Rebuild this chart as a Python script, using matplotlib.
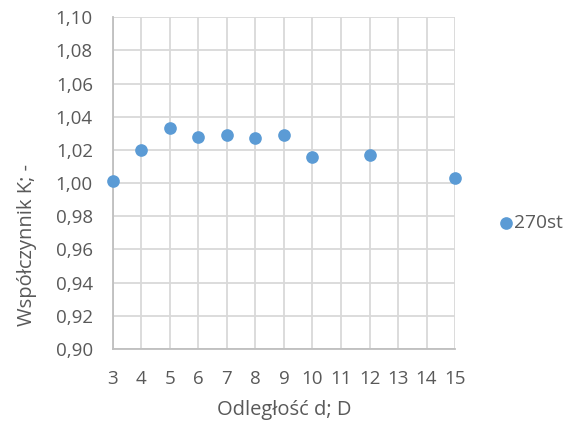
import matplotlib
matplotlib.use("Agg")
import matplotlib.pyplot as plt
from matplotlib.ticker import FixedLocator, FuncFormatter

# Distance d (in D) and coefficient K for the 270st series
distance = [3, 4, 5, 6, 7, 8, 9, 10, 12, 15]
coef_k = [1.001, 1.020, 1.033, 1.028, 1.029, 1.027, 1.029, 1.016, 1.017, 1.003]
x_ticks = list(range(3, 16))
y_ticks = [0.90, 0.92, 0.94, 0.96, 0.98, 1.00, 1.02, 1.04, 1.06, 1.08, 1.10]
series_name = "270st"

text_color = "#595959"
grid_color = "#d9d9d9"
axis_color = "#bfbfbf"
marker_color = "#5B9BD5"

plt.rcParams["font.family"] = ["Open Sans", "DejaVu Sans"]

fig = plt.figure(figsize=(5.80, 4.29), dpi=100)
ax = fig.add_axes([0.1948, 0.1865, 0.5897, 0.7732])

ax.scatter(distance, coef_k, s=83, color=marker_color, zorder=3,
           clip_on=False, label=series_name, linewidths=0)

ax.set_xlim(3, 15)
ax.set_ylim(0.90, 1.10)
ax.xaxis.set_major_locator(FixedLocator(x_ticks))
ax.yaxis.set_major_locator(FixedLocator(y_ticks))
ax.yaxis.set_major_formatter(FuncFormatter(lambda v, p: f"{v:.2f}".replace(".", ",")))
ax.xaxis.set_major_formatter(FuncFormatter(lambda v, p: f"{int(round(v))}"))

ax.grid(True, color=grid_color, linewidth=1.3, zorder=0)
ax.set_axisbelow(True)
for side in ("top", "right"):
    ax.spines[side].set_visible(False)
for side in ("left", "bottom"):
    ax.spines[side].set_color(axis_color)
    ax.spines[side].set_linewidth(1.3)

ax.tick_params(axis="both", length=0, labelsize=13.5, colors=text_color)
ax.tick_params(axis="x", pad=15)
ax.tick_params(axis="y", pad=14.5)

ax.set_xlabel("Odległość d; D", fontsize=14.5, color=text_color)
ax.set_ylabel("Współczynnik K; -", fontsize=14.5, color=text_color)
ax.xaxis.set_label_coords(0.5, -0.184)
ax.xaxis.label.set_va("center")
ax.yaxis.set_label_coords(-0.251, 0.313)
ax.yaxis.label.set_va("center")

leg = fig.legend(loc="center left", bbox_to_anchor=(0.860, 0.480), frameon=False,
                 fontsize=13.8, handlelength=0.7, handletextpad=0.08,
                 borderpad=0, borderaxespad=0)
for t in leg.get_texts():
    t.set_color(text_color)

fig.savefig("out.png", dpi=100)
